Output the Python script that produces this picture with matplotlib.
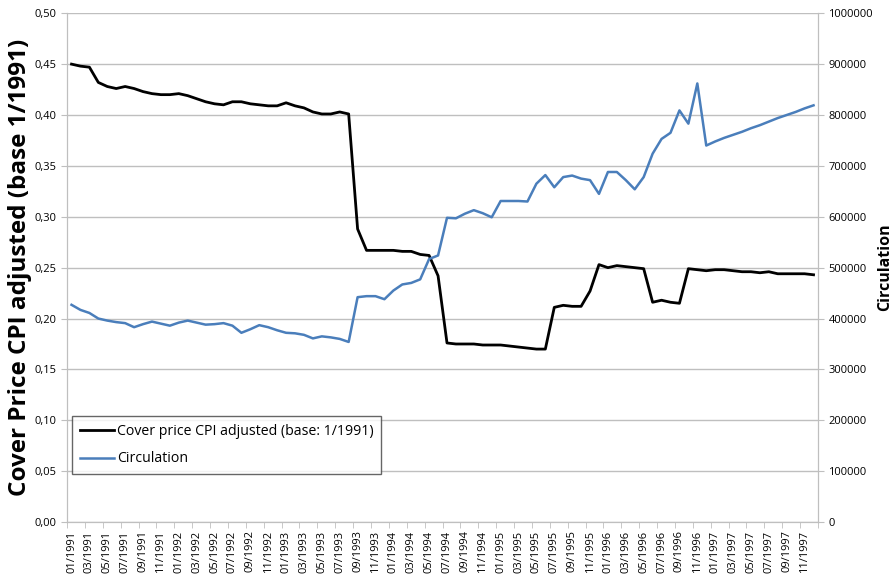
import matplotlib.pyplot as plt
from matplotlib.ticker import FixedLocator, FuncFormatter

plt.rcParams['font.family'] = ['Open Sans', 'DejaVu Sans']

# monthly data, 01/1991 - 12/1997
years = [1991, 1992, 1993, 1994, 1995, 1996, 1997]
months = [f"{m:02d}/{y}" for y in years for m in range(1, 13)]

cover_price = [
    0.450, 0.448, 0.447, 0.432, 0.428, 0.426, 0.428, 0.426, 0.423, 0.421, 0.420, 0.420,
    0.421, 0.419, 0.416, 0.413, 0.411, 0.410, 0.413, 0.413, 0.411, 0.410, 0.409, 0.409,
    0.412, 0.409, 0.407, 0.403, 0.401, 0.401, 0.403, 0.401, 0.288, 0.267, 0.267, 0.267,
    0.267, 0.266, 0.266, 0.263, 0.262, 0.242, 0.176, 0.175, 0.175, 0.175, 0.174, 0.174,
    0.174, 0.173, 0.172, 0.171, 0.170, 0.170, 0.211, 0.213, 0.212, 0.212, 0.227, 0.253,
    0.250, 0.252, 0.251, 0.250, 0.249, 0.216, 0.218, 0.216, 0.215, 0.249, 0.248, 0.247,
    0.248, 0.248, 0.247, 0.246, 0.246, 0.245, 0.246, 0.244, 0.244, 0.244, 0.244, 0.243,
]

circulation = [
    427000, 417000, 411000, 400000, 396000, 393000, 391000, 383000, 389000, 394000, 390000, 386000,
    392000, 396000, 392000, 388000, 389000, 391000, 386000, 372000, 379000, 387000, 383000, 377000,
    372000, 371000, 368000, 361000, 365000, 363000, 360000, 354000, 442000, 444000, 444000, 438000,
    455000, 467000, 470000, 477000, 517000, 524000, 598000, 597000, 606000, 613000, 607000, 599000,
    631000, 631000, 631000, 630000, 665000, 682000, 658000, 678000, 681000, 675000, 672000, 645000,
    688000, 688000, 672000, 654000, 678000, 724000, 753000, 765000, 809000, 783000, 862000, 740000,
    748000, 755000, 761000, 767000, 774000, 780000, 787000, 794000, 800000, 806000, 813000, 819000,
]

x = list(range(len(months)))

fig = plt.figure(figsize=(8.94, 5.75), dpi=100)
ax = fig.add_axes([0.075, 0.092, 0.840, 0.885])
ax2 = ax.twinx()

grid_col = '#bfbfbf'
ax.set_ylim(0, 0.5)
ax.set_yticks([i * 0.05 for i in range(11)])
ax.yaxis.set_major_formatter(FuncFormatter(lambda v, p: f"{v:.2f}".replace('.', ',')))
ax.grid(axis='y', color=grid_col, lw=1)
ax.set_axisbelow(True)

ax2.set_ylim(0, 1000000)
ax2.set_yticks([i * 100000 for i in range(11)])
ax2.yaxis.set_major_formatter(FuncFormatter(lambda v, p: f"{int(v)}"))

l1, = ax.plot(x, cover_price, color='black', lw=2.0, label='Cover price CPI adjusted (base: 1/1991)')
l2, = ax2.plot(x, circulation, color='#4a7ebb', lw=1.8, label='Circulation')

ax.set_xlim(-0.5, len(months) - 0.5)
ax.set_xticks(x[::2])
ax.set_xticklabels(months[::2], rotation=90, fontsize=8)
ax.xaxis.set_minor_locator(FixedLocator([i - 0.5 for i in range(0, len(months) + 1, 2)]))
ax.tick_params(axis='x', which='major', length=0, pad=6)
ax.tick_params(axis='x', which='minor', length=4, color=grid_col)
ax.tick_params(axis='y', length=4, color=grid_col, labelsize=8)
ax2.tick_params(axis='y', length=4, color=grid_col, labelsize=8)

for a in (ax, ax2):
    a.spines['top'].set_visible(False)
    for s in ('left', 'right', 'bottom'):
        a.spines[s].set_color(grid_col)

ax.set_ylabel('Cover Price CPI adjusted (base 1/1991)', fontsize=17.5, fontweight='bold', labelpad=2)
ax2.set_ylabel('Circulation', fontsize=11.5, fontweight='bold', labelpad=3)

leg = ax.legend(handles=[l1, l2], loc='lower left', bbox_to_anchor=(0.0067, 0.094),
                borderaxespad=0, fontsize=10.2, frameon=True, fancybox=False,
                handlelength=2.4, handletextpad=0.2, borderpad=0.55, labelspacing=0.9)
leg.get_frame().set_edgecolor('#404040')
leg.get_frame().set_linewidth(1)

fig.savefig('out.png', dpi=100)
